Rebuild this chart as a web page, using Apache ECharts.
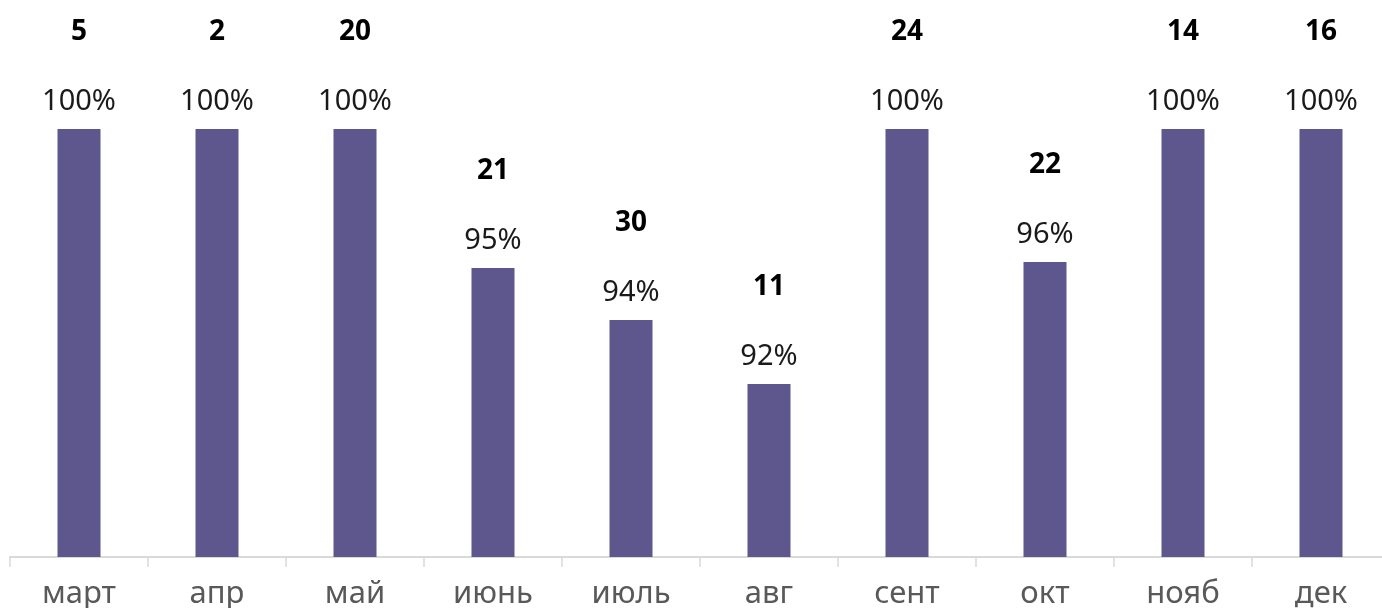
<!DOCTYPE html>
<html>
<head>
<meta charset="utf-8">
<script src="https://cdn.jsdelivr.net/npm/echarts@6/dist/echarts.min.js"></script>
<style>
  html, body { margin: 0; padding: 0; background: #fff; }
  #chart { width: 1382px; height: 608px; }
</style>
</head>
<body>
<div id="chart"></div>
<script>
// месяцы
const months = ["март", "апр", "май", "июнь", "июль", "авг", "сент", "окт", "нояб", "дек"];
// доля, %
const shares = [100, 100, 100, 95.45, 93.75, 91.66, 100, 95.65, 100, 100];
// количество
const counts = [5, 2, 20, 21, 30, 11, 24, 22, 14, 16];

const font = "'Noto Sans', 'Open Sans', sans-serif";

let myChart = echarts.init(document.getElementById("chart"));
myChart.setOption({
  animation: false,
  // plot area runs a little past the right edge, as in the original
  grid: { left: 10, width: 1380, top: 129, bottom: 51, outerBoundsMode: "none", containLabel: false },
  xAxis: {
    type: "category",
    data: months,
    axisLine: { lineStyle: { color: "#d9d9d9", width: 2 } },
    axisTick: { show: true, length: 10, lineStyle: { color: "#d9d9d9", width: 1.5 } },
    axisLabel: {
      color: "#595959",
      fontSize: 31,
      fontFamily: font,
      margin: 22,
    },
  },
  yAxis: {
    type: "value",
    min: 86,
    max: 100,
    show: false,
  },
  series: [
    {
      type: "bar",
      data: shares,
      barWidth: 43,
      itemStyle: { color: "#5d578d" },
      label: {
        show: true,
        position: "top",
        distance: 2,
        formatter: function (p) {
          return "{c|" + counts[p.dataIndex] + "}\n{p|" + Math.round(p.value) + "%}";
        },
        rich: {
          c: {
            fontSize: 28,
            fontWeight: "bold",
            color: "#000",
            fontFamily: font,
            lineHeight: 90,
            verticalAlign: "middle",
          },
          p: {
            fontSize: 29,
            color: "#1a1a1a",
            fontFamily: font,
            lineHeight: 50,
            verticalAlign: "middle",
          },
        },
      },
    },
  ],
});
</script>
</body>
</html>
